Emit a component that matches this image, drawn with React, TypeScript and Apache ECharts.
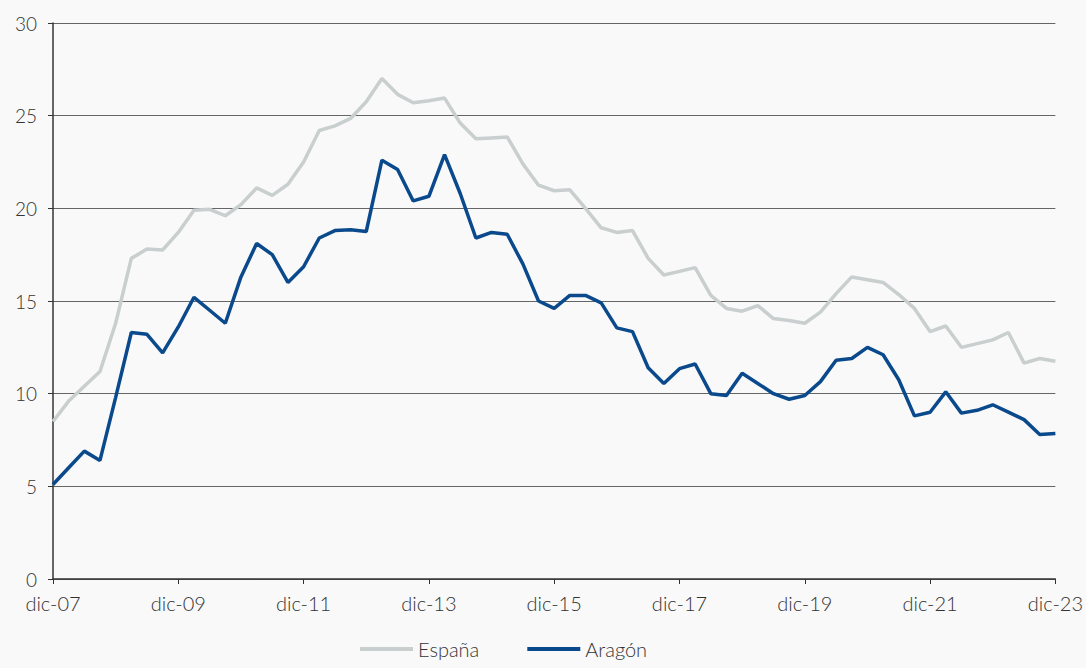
import React, { useEffect, useRef } from "react";
import * as echarts from "echarts";

const years = ["07","08","09","10","11","12","13","14","15","16","17","18","19","20","21","22","23"];
const quarterNames = ["mar", "jun", "sep", "dic"];
// quarterly categories from dic-07 to dic-23
const categories: string[] = [];
categories.push("dic-07");
for (let y = 1; y < years.length; y++) {
  for (const q of quarterNames) categories.push(q + "-" + years[y]);
}

const espana = [
  8.5, 9.6, 10.4, 11.2, 13.8, 17.3, 17.8, 17.75, 18.7, 19.9, 19.95, 19.6, 20.2,
  21.1, 20.7, 21.3, 22.5, 24.2, 24.45, 24.85, 25.75, 27.0, 26.15, 25.7, 25.8,
  25.95, 24.6, 23.75, 23.8, 23.85, 22.4, 21.25, 20.95, 21.0, 20.0, 18.95, 18.7,
  18.8, 17.3, 16.4, 16.6, 16.8, 15.3, 14.6, 14.45, 14.75, 14.05, 13.95, 13.8,
  14.4, 15.4, 16.3, 16.15, 16.0, 15.35, 14.6, 13.35, 13.65, 12.5, 12.7, 12.9,
  13.3, 11.65, 11.9, 11.75,
];

const aragon = [
  5.1, 6.0, 6.9, 6.4, 9.8, 13.3, 13.2, 12.2, 13.6, 15.2, 14.5, 13.8, 16.3,
  18.1, 17.5, 16.0, 16.85, 18.4, 18.8, 18.85, 18.75, 22.6, 22.1, 20.4, 20.65,
  22.9, 20.8, 18.4, 18.7, 18.6, 17.0, 15.0, 14.6, 15.3, 15.3, 14.9, 13.55,
  13.35, 11.4, 10.55, 11.35, 11.6, 10.0, 9.9, 11.1, 10.55, 10.0, 9.7, 9.9,
  10.65, 11.8, 11.9, 12.5, 12.1, 10.75, 8.8, 9.0, 10.1, 8.95, 9.1, 9.4, 9.0,
  8.6, 7.8, 7.85,
];

const FONT = "Lato";
const TXT = "#333";

export default function App() {
  const ref = useRef<HTMLDivElement>(null);
  useEffect(() => {
    document.body.style.margin = "0";
    const chart = echarts.init(ref.current!, null, { renderer: "svg" });
    chart.setOption({
      animation: false,
      backgroundColor: "#f9f9f9",
      textStyle: { fontFamily: FONT, fontWeight: 300 },
      grid: { left: 53, right: 28, top: 23, bottom: 89, containLabel: false },
      legend: {
        bottom: 4,
        left: 355,
        itemWidth: 53,
        itemHeight: 4,
        itemGap: 48,
        icon: "rect",
        textStyle: { fontFamily: FONT, fontSize: 20, color: TXT, fontWeight: 300 },
        data: ["España", "Aragón"],
      },
      xAxis: {
        type: "category",
        data: categories,
        boundaryGap: false,
        axisLine: { lineStyle: { color: "#333", width: 1.5 } },
        axisTick: { show: true, interval: 7, length: 5, lineStyle: { color: "#333" } },
        axisLabel: {
          interval: 7,
          fontSize: 20,
          lineHeight: 16,
          color: TXT,
          fontFamily: FONT,
          fontWeight: 300,
          margin: 16,
        },
      },
      yAxis: {
        type: "value",
        min: 0,
        max: 30,
        interval: 5,
        axisLine: { show: true, lineStyle: { color: "#333", width: 1.5 } },
        axisTick: { show: true, length: 5, lineStyle: { color: "#333" } },
        splitLine: { lineStyle: { color: "#666", width: 1 } },
        axisLabel: {
          fontSize: 19,
          lineHeight: 15,
          color: TXT,
          fontFamily: FONT,
          fontWeight: 300,
          margin: 16,
        },
      },
      series: [
        {
          name: "España",
          type: "line",
          data: espana,
          symbol: "none",
          lineStyle: { color: "#c9cecf", width: 3.5 },
          itemStyle: { color: "#c9cecf" },
        },
        {
          name: "Aragón",
          type: "line",
          data: aragon,
          symbol: "none",
          lineStyle: { color: "#0a4a8c", width: 3.5 },
          itemStyle: { color: "#0a4a8c" },
        },
      ],
    });
    return () => chart.dispose();
  }, []);
  return <div ref={ref} style={{ width: 1086, height: 668 }} />;
}
